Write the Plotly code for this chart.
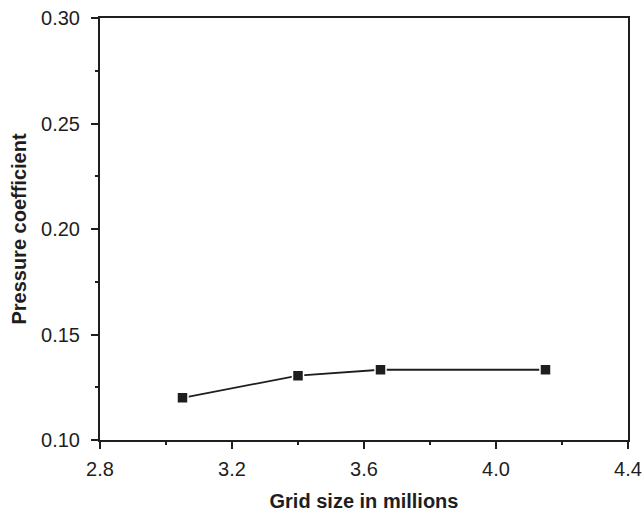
import plotly.graph_objects as go

# Grid-independence study: pressure coefficient vs. mesh size
grid_size_millions = [3.05, 3.40, 3.65, 4.15]
pressure_coefficient = [0.120, 0.1305, 0.1333, 0.1333]

x_ticks = [2.8, 3.2, 3.6, 4.0, 4.4]
y_ticks = [0.10, 0.15, 0.20, 0.25, 0.30]

ink = "#1e1e1e"
font_family = "Liberation Sans, Arial, sans-serif"

fig = go.Figure()
fig.add_trace(go.Scatter(
    x=grid_size_millions,
    y=pressure_coefficient,
    mode="lines+markers",
    line=dict(color=ink, width=1.8),
    marker=dict(symbol="square", size=11, color=ink,
                line=dict(color="white", width=1.5)),
    showlegend=False,
))

axis_common = dict(
    automargin=False,
    showgrid=False,
    zeroline=False,
    showline=True,
    linecolor=ink,
    linewidth=2,
    mirror=True,
    ticks="outside",
    ticklen=7,
    tickwidth=2,
    tickcolor=ink,
    tickfont=dict(family=font_family, size=20, color=ink),
)

fig.update_xaxes(
    **axis_common,
    range=[2.8, 4.4],
    tickvals=x_ticks,
    ticktext=[f"{v:.1f}" for v in x_ticks],
    ticklabelstandoff=3,
    minor=dict(ticks="outside", ticklen=3, tickwidth=2, tickcolor=ink, dtick=0.2, tick0=2.8),
    title=dict(text="<b>Grid size in millions</b>",
               font=dict(family=font_family, size=20, color=ink), standoff=15),
)
fig.update_yaxes(
    **axis_common,
    range=[0.10, 0.30],
    tickvals=y_ticks,
    ticktext=[f"{v:.2f}" for v in y_ticks],
    ticklabelstandoff=7,
    minor=dict(ticks="outside", ticklen=3, tickwidth=2, tickcolor=ink, dtick=0.025, tick0=0.1),
    title=dict(text="<b>Pressure coefficient</b>",
               font=dict(family=font_family, size=20, color=ink), standoff=9),
)

fig.update_layout(
    width=644,
    height=513,
    margin=dict(l=100, r=16, t=18, b=73),
    plot_bgcolor="white",
    paper_bgcolor="white",
)

fig.write_html("out.html")
